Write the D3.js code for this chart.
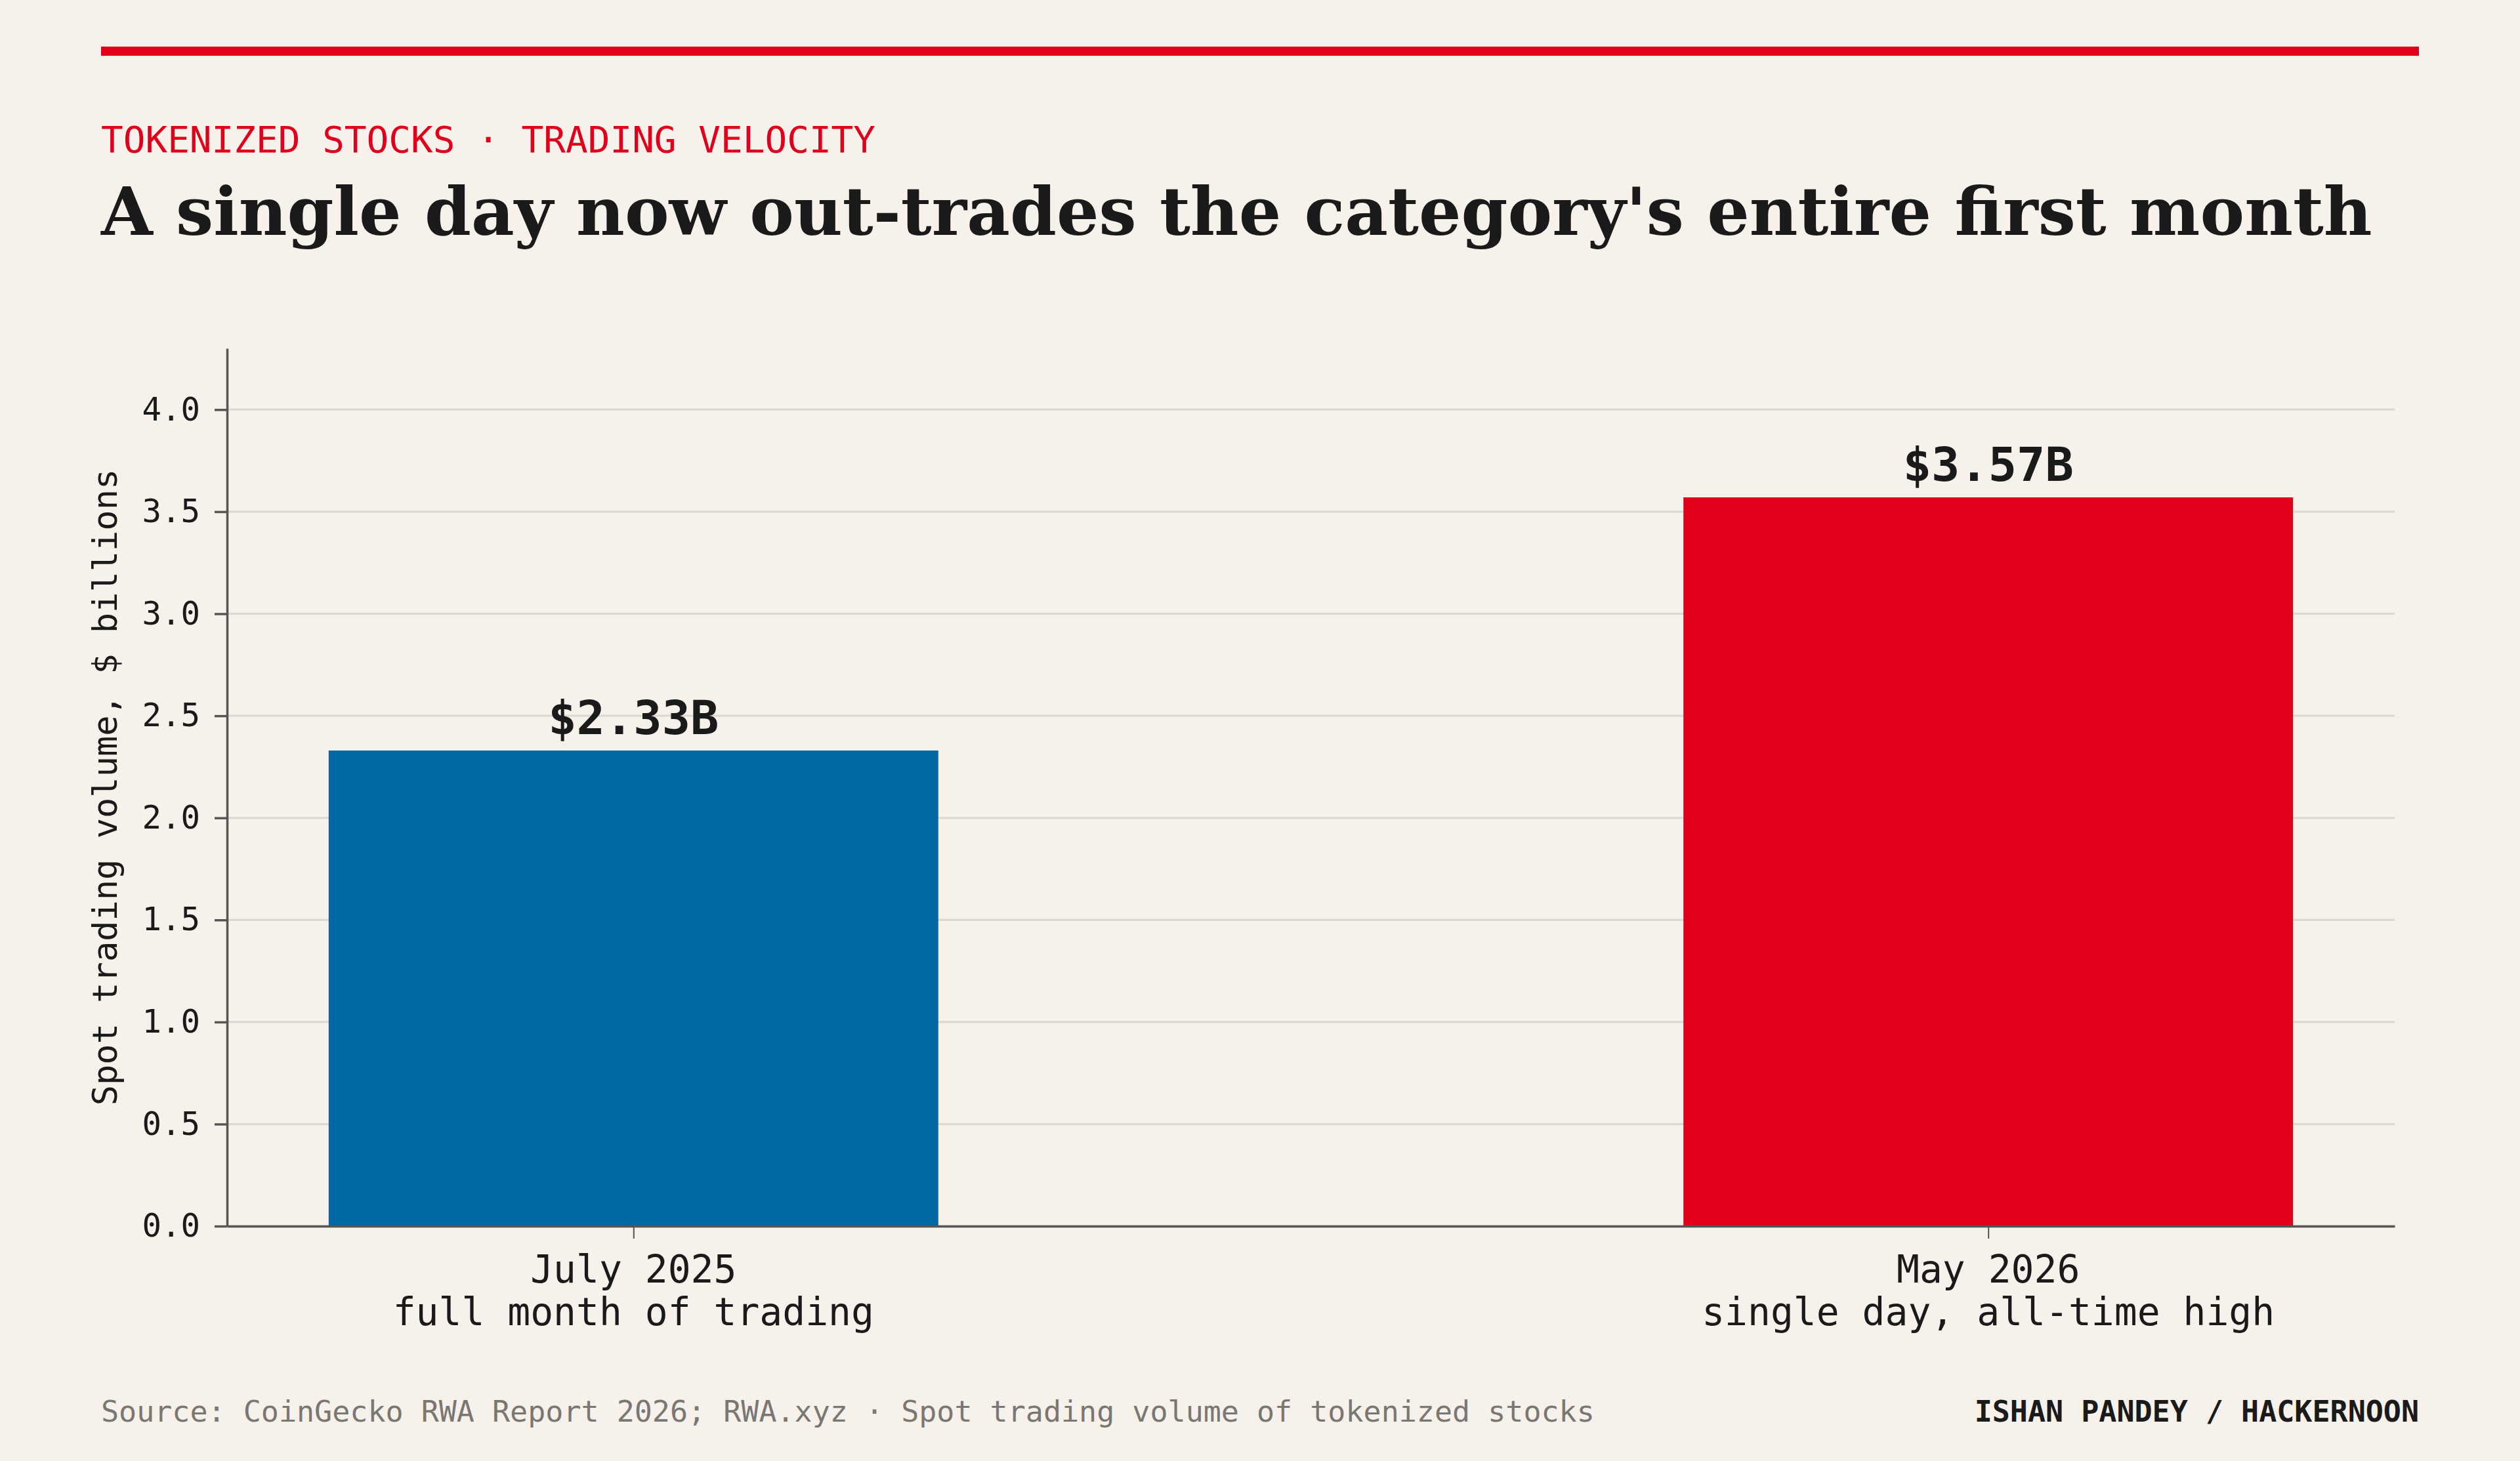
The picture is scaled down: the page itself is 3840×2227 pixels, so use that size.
<!DOCTYPE html>
<html>
<head>
<meta charset="utf-8">
<script src="https://cdn.jsdelivr.net/npm/d3@7"></script>
<style>
  html, body { margin: 0; padding: 0; background: #f6f1ea; }
  svg { display: block; }
</style>
</head>
<body>
<div id="chart"></div>
<script>
// data
const categories = ["July 2025", "May 2026"];
const subLabels = ["full month of trading", "single day, all-time high"];
const volumes = [2.33, 3.57];
const valueLabels = ["$2.33B", "$3.57B"];
const barColors = ["#0069a3", "#e1001b"];
const yTicks = [0, 0.5, 1.0, 1.5, 2.0, 2.5, 3.0, 3.5, 4.0];

const W = 3840, H = 2227;
const mono = "'DejaVu Sans Mono', 'Liberation Mono', monospace";
const serif = "'DejaVu Serif', 'Liberation Serif', serif";

const svg = d3.select("#chart").append("svg")
  .attr("width", W)
  .attr("height", H);

svg.append("rect").attr("width", W).attr("height", H).attr("fill", "#f6f1ea");

// top rule
svg.append("rect")
  .attr("x", 154).attr("y", 71)
  .attr("width", 3686 - 154).attr("height", 14)
  .attr("fill", "#e1001b");

svg.append("text")
  .attr("x", 154).attr("y", 232)
  .attr("font-family", mono).attr("font-size", 56)
  .attr("fill", "#e1001b")
  .text("TOKENIZED STOCKS · TRADING VELOCITY");

svg.append("text")
  .attr("x", 154).attr("y", 358)
  .attr("font-family", serif).attr("font-weight", "bold").attr("font-size", 101.5)
  .attr("fill", "#1a1a1a")
  .text("A single day now out-trades the category's entire first month");

// plot area
const plotL = 346, plotR = 3649, plotT = 531, plotB = 1869;

const x = d3.scalePoint()
  .domain(categories)
  .range([plotL, plotR])
  .padding(0.3);
const barW = x.step() * 0.45;

const y = d3.scaleLinear()
  .domain([0, 4.3])
  .range([plotB, plotT]);

// grid
svg.append("g")
  .selectAll("line")
  .data(yTicks)
  .enter()
  .append("line")
  .attr("x1", plotL).attr("x2", plotR)
  .attr("y1", d => y(d)).attr("y2", d => y(d))
  .attr("stroke", "#dcd7cf").attr("stroke-width", 3);

// bars
svg.append("g")
  .selectAll("rect")
  .data(volumes)
  .enter()
  .append("rect")
  .attr("x", (d, i) => x(categories[i]) - barW / 2)
  .attr("y", d => y(d))
  .attr("width", barW)
  .attr("height", d => plotB - y(d))
  .attr("fill", (d, i) => barColors[i]);

// value labels
svg.append("g")
  .selectAll("text")
  .data(volumes)
  .enter()
  .append("text")
  .attr("x", (d, i) => x(categories[i]))
  .attr("y", d => y(d) - 25)
  .attr("text-anchor", "middle")
  .attr("font-family", mono).attr("font-weight", "bold").attr("font-size", 72)
  .attr("fill", "#1a1a1a")
  .text((d, i) => valueLabels[i]);

// y axis
const yAxis = svg.append("g")
  .attr("transform", "translate(" + plotL + ",0)")
  .call(d3.axisLeft(y).tickValues(yTicks).tickFormat(d3.format(".1f"))
    .tickSizeInner(19).tickSizeOuter(0).tickPadding(22));
yAxis.select(".domain").attr("stroke", "#555").attr("stroke-width", 3.5);
yAxis.selectAll(".tick line").attr("stroke", "#555").attr("stroke-width", 3.5);
yAxis.selectAll("text")
  .attr("font-family", mono).attr("font-size", 49).attr("fill", "#1a1a1a");

// x axis
const xAxis = svg.append("g")
  .attr("transform", "translate(0," + plotB + ")")
  .call(d3.axisBottom(x).tickSizeInner(19).tickSizeOuter(0).tickPadding(0).tickFormat(""));
xAxis.select(".domain").attr("stroke", "#555").attr("stroke-width", 3.5);
xAxis.selectAll(".tick line").attr("stroke", "#555").attr("stroke-width", 2);

const xl = svg.append("g")
  .selectAll("text")
  .data(categories)
  .enter()
  .append("text")
  .attr("text-anchor", "middle")
  .attr("font-family", mono).attr("font-size", 58)
  .attr("fill", "#1a1a1a");
xl.append("tspan").attr("x", d => x(d)).attr("y", 1955).text(d => d);
xl.append("tspan").attr("x", d => x(d)).attr("y", 2020).text((d, i) => subLabels[i]);

// y axis title
svg.append("text")
  .attr("transform", "translate(178," + ((plotT + plotB) / 2) + ") rotate(-90)")
  .attr("text-anchor", "middle")
  .attr("font-family", mono).attr("font-size", 52)
  .attr("fill", "#1a1a1a")
  .text("Spot trading volume, $ billions");

// footer
svg.append("text")
  .attr("x", 154).attr("y", 2167)
  .attr("font-family", mono).attr("font-size", 45)
  .attr("fill", "#7a7773")
  .text("Source: CoinGecko RWA Report 2026; RWA.xyz · Spot trading volume of tokenized stocks");

svg.append("text")
  .attr("x", 3686).attr("y", 2167)
  .attr("text-anchor", "end")
  .attr("font-family", mono).attr("font-weight", "bold").attr("font-size", 45)
  .attr("fill", "#1a1a1a")
  .text("ISHAN PANDEY / HACKERNOON");
</script>
</body>
</html>
